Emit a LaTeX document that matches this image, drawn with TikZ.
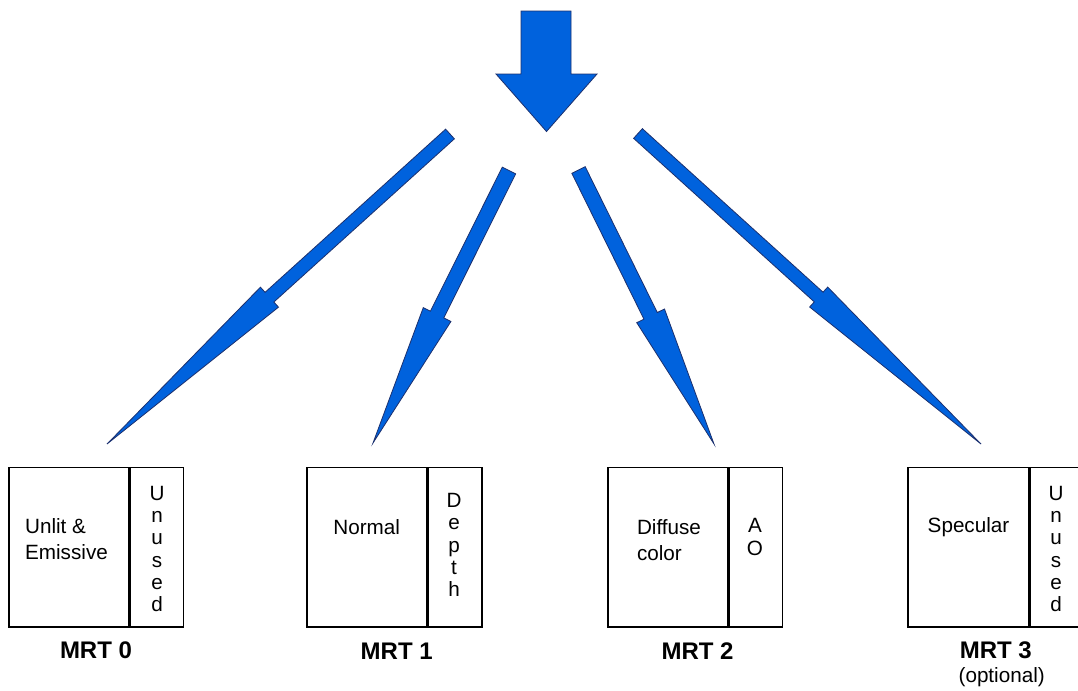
\documentclass[tikz,border=0pt]{standalone}
\usepackage{fontspec}
\setmainfont{Liberation Sans}
\usetikzlibrary{calc}
\definecolor{arrowblue}{RGB}{0,98,221}
\definecolor{arrowedge}{RGB}{28,48,110}
\tikzset{
  arrowshape/.style={fill=arrowblue, draw=arrowedge, line width=0.6pt, line join=miter},
  boxline/.style={draw=black, line width=1.3pt},
  divider/.style={draw=black, line width=2.4pt},
  celltext/.style={inner sep=0pt, font=\fontsize{15.5}{19}\selectfont, align=left},
  vertext/.style={inner sep=0pt, font=\fontsize{15.5}{16.65}\selectfont, align=center},
  mrtlabel/.style={inner sep=0pt, font=\fontsize{18}{20}\selectfont\bfseries},
  optlabel/.style={inner sep=0pt, font=\fontsize{15.5}{19}\selectfont},
}
\newcommand\slimarrow[5]{%
  \coordinate (Q) at ($(#2)!#3!(#1)$);
  \draw[arrowshape] ($(#1)!#4!90:(#2)$) -- ($(Q)!#4!90:(#2)$) -- ($(Q)!#5!90:(#2)$) -- (#2)
    -- ($(Q)!#5!-90:(#2)$) -- ($(Q)!#4!-90:(#2)$) -- ($(#1)!#4!-90:(#2)$) -- cycle;}
\begin{document}
\begin{tikzpicture}[x=0.75pt, y=-0.75pt]
\path[use as bounding box] (0,0) rectangle (1078,690);
\clip (0,0) rectangle (1078,690);

% top big arrow
\draw[arrowshape] (521,11) -- (571,11) -- (571,74) -- (597,74) -- (546.5,131.5) -- (496,74) -- (521,74) -- cycle;

% slim arrows
\coordinate (sA) at (450,134);   \coordinate (tA) at (107,444);
\coordinate (sB) at (509,170.5); \coordinate (tB) at (373,443);
\coordinate (sC) at (578.5,170); \coordinate (tC) at (714,444);
\coordinate (sD) at (638,133.5); \coordinate (tD) at (981,444);
\slimarrow{sA}{tA}{164.25pt}{4.9pt}{10.1pt}
\slimarrow{sB}{tB}{107.7pt}{5.6pt}{11.6pt}
\slimarrow{sC}{tC}{107.25pt}{5.6pt}{11.6pt}
\slimarrow{sD}{tD}{164.25pt}{4.9pt}{10.1pt}

% MRT boxes
\foreach \x/\d in {9.3/129.3, 307.3/427.7, 608.3/728.3, 908.3/1029.3}{
  \draw[boxline] (\x,467.5) rectangle ({\d+54.2},626.7);
  \draw[divider] (\d,467.5) -- (\d,626.7);
}

% texts MRT 0
\node[celltext] (t0) at (66.5,539) {Unlit \&\\Emissive};
\node[vertext] (v0) at (157,549) {U\\n\\u\\s\\e\\d};
\node[mrtlabel] (l0) at (96,650) {MRT 0};
% MRT 1
\node[celltext] (t1) at (366.7,526.7) {Normal};
\node[vertext] (v1) at (454,545) {D\\e\\p\\t\\h};
\node[mrtlabel] (l1) at (396.7,651) {MRT 1};
% MRT 2
\node[celltext] (t2) at (669,540) {Diffuse\\color};
\node[vertext] (v2) at (755,537) {A\\O};
\node[mrtlabel] (l2) at (697.5,651) {MRT 2};
% MRT 3
\node[celltext] (t3) at (968.5,527) {Specular};
\node[vertext] (v3) at (1056,549) {U\\n\\u\\s\\e\\d};
\node[mrtlabel] (l3) at (995.8,650) {MRT 3};
\node[optlabel] (o3) at (1001.7,676.7) {(optional)};
\end{tikzpicture}
\end{document}
